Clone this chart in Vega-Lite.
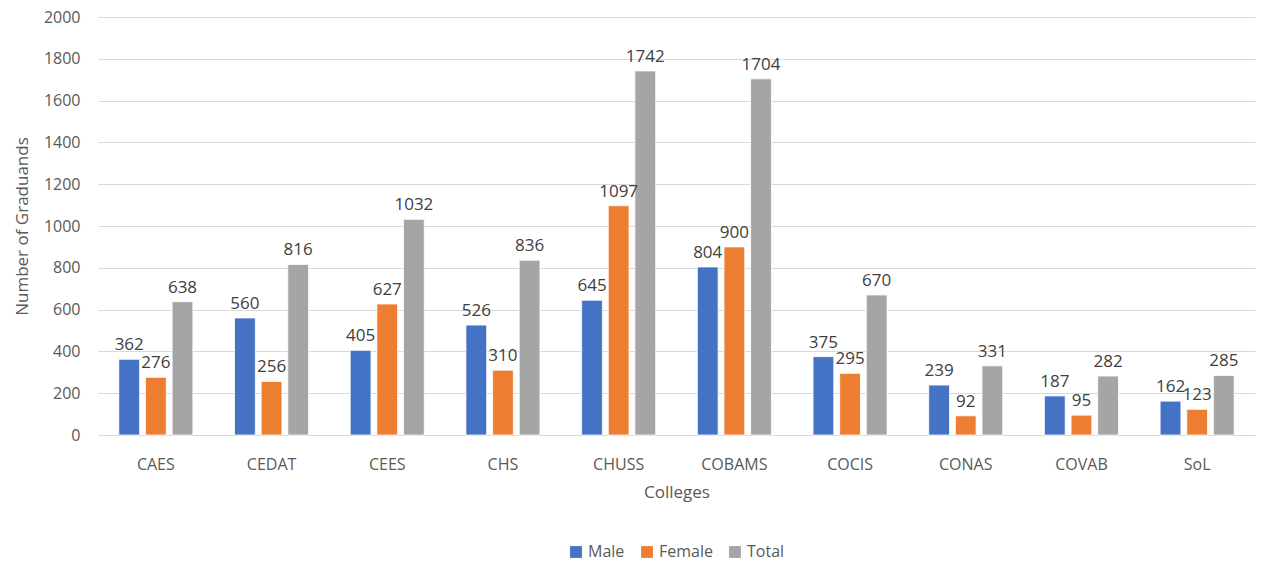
{
  "$schema": "https://vega.github.io/schema/vega-lite/v6.json",
  "width": 1267,
  "height": 561,
  "autosize": {"type": "fit", "contains": "padding"},
  "padding": {"left": 13, "top": 9, "right": 12, "bottom": 1},
  "background": "white",
  "data": {"values": [
    {"college": "CAES", "gender": "Male", "value": 362},
    {"college": "CAES", "gender": "Female", "value": 276},
    {"college": "CAES", "gender": "Total", "value": 638},
    {"college": "CEDAT", "gender": "Male", "value": 560},
    {"college": "CEDAT", "gender": "Female", "value": 256},
    {"college": "CEDAT", "gender": "Total", "value": 816},
    {"college": "CEES", "gender": "Male", "value": 405},
    {"college": "CEES", "gender": "Female", "value": 627},
    {"college": "CEES", "gender": "Total", "value": 1032},
    {"college": "CHS", "gender": "Male", "value": 526},
    {"college": "CHS", "gender": "Female", "value": 310},
    {"college": "CHS", "gender": "Total", "value": 836},
    {"college": "CHUSS", "gender": "Male", "value": 645},
    {"college": "CHUSS", "gender": "Female", "value": 1097},
    {"college": "CHUSS", "gender": "Total", "value": 1742},
    {"college": "COBAMS", "gender": "Male", "value": 804},
    {"college": "COBAMS", "gender": "Female", "value": 900},
    {"college": "COBAMS", "gender": "Total", "value": 1704},
    {"college": "COCIS", "gender": "Male", "value": 375},
    {"college": "COCIS", "gender": "Female", "value": 295},
    {"college": "COCIS", "gender": "Total", "value": 670},
    {"college": "CONAS", "gender": "Male", "value": 239},
    {"college": "CONAS", "gender": "Female", "value": 92},
    {"college": "CONAS", "gender": "Total", "value": 331},
    {"college": "COVAB", "gender": "Male", "value": 187},
    {"college": "COVAB", "gender": "Female", "value": 95},
    {"college": "COVAB", "gender": "Total", "value": 282},
    {"college": "SoL", "gender": "Male", "value": 162},
    {"college": "SoL", "gender": "Female", "value": 123},
    {"college": "SoL", "gender": "Total", "value": 285}
  ]},
  "encoding": {
    "x": {"field": "college", "type": "nominal", "sort": null,
      "scale": {"paddingInner": 0.36, "paddingOuter": 0.18},
      "axis": {"title": "Colleges", "labelAngle": 0, "ticks": false, "labelPadding": 21, "titlePadding": 12, "labelFontSize": 16, "titleFontSize": 17, "labelColor": "#595959", "titleColor": "#595959"}},
    "xOffset": {"field": "gender", "type": "nominal", "sort": ["Male", "Female", "Total"],
      "scale": {"paddingInner": 0.22}},
    "y": {"field": "value", "type": "quantitative",
      "scale": {"domain": [0, 2000]},
      "axis": {"title": "Number of Graduands", "format": "d", "labelOverlap": false, "values": [0,200,400,600,800,1000,1200,1400,1600,1800,2000], "domain": false, "ticks": false, "labelPadding": 18, "titlePadding": 12, "labelFontSize": 16, "titleFontSize": 17, "labelColor": "#595959", "titleColor": "#595959"}}
  },
  "layer": [
    {"mark": {"type": "bar", "stroke": "white", "strokeWidth": 0.8},
      "encoding": {
        "color": {"field": "gender", "type": "nominal", "sort": ["Male", "Female", "Total"],
          "scale": {"domain": ["Male", "Female", "Total"], "range": ["#4472C4", "#ED7D31", "#A5A5A5"]},
          "legend": {"title": null, "orient": "bottom", "direction": "horizontal", "symbolType": "square", "symbolSize": 140, "symbolStrokeWidth": 0, "labelFontSize": 16, "labelColor": "#595959", "columnPadding": 14, "offset": 44}}
      }},
    {"mark": {"type": "text", "baseline": "bottom", "dy": -5, "fontSize": 17, "color": "#404040", "font": "Open Sans"},
      "encoding": {"text": {"field": "value", "type": "quantitative", "format": "d"}}}
  ],
  "config": {
    "font": "Open Sans",
    "view": {"stroke": null},
    "axis": {"labelFont": "Open Sans", "titleFont": "Open Sans", "titleFontWeight": "normal", "gridColor": "#d9d9d9", "gridWidth": 1.2, "domainColor": "#d9d9d9", "domainWidth": 1.2},
    "axisX": {"grid": false},
    "legend": {"labelFont": "Open Sans", "layout": {"bottom": {"anchor": "middle"}}}
  }
}
